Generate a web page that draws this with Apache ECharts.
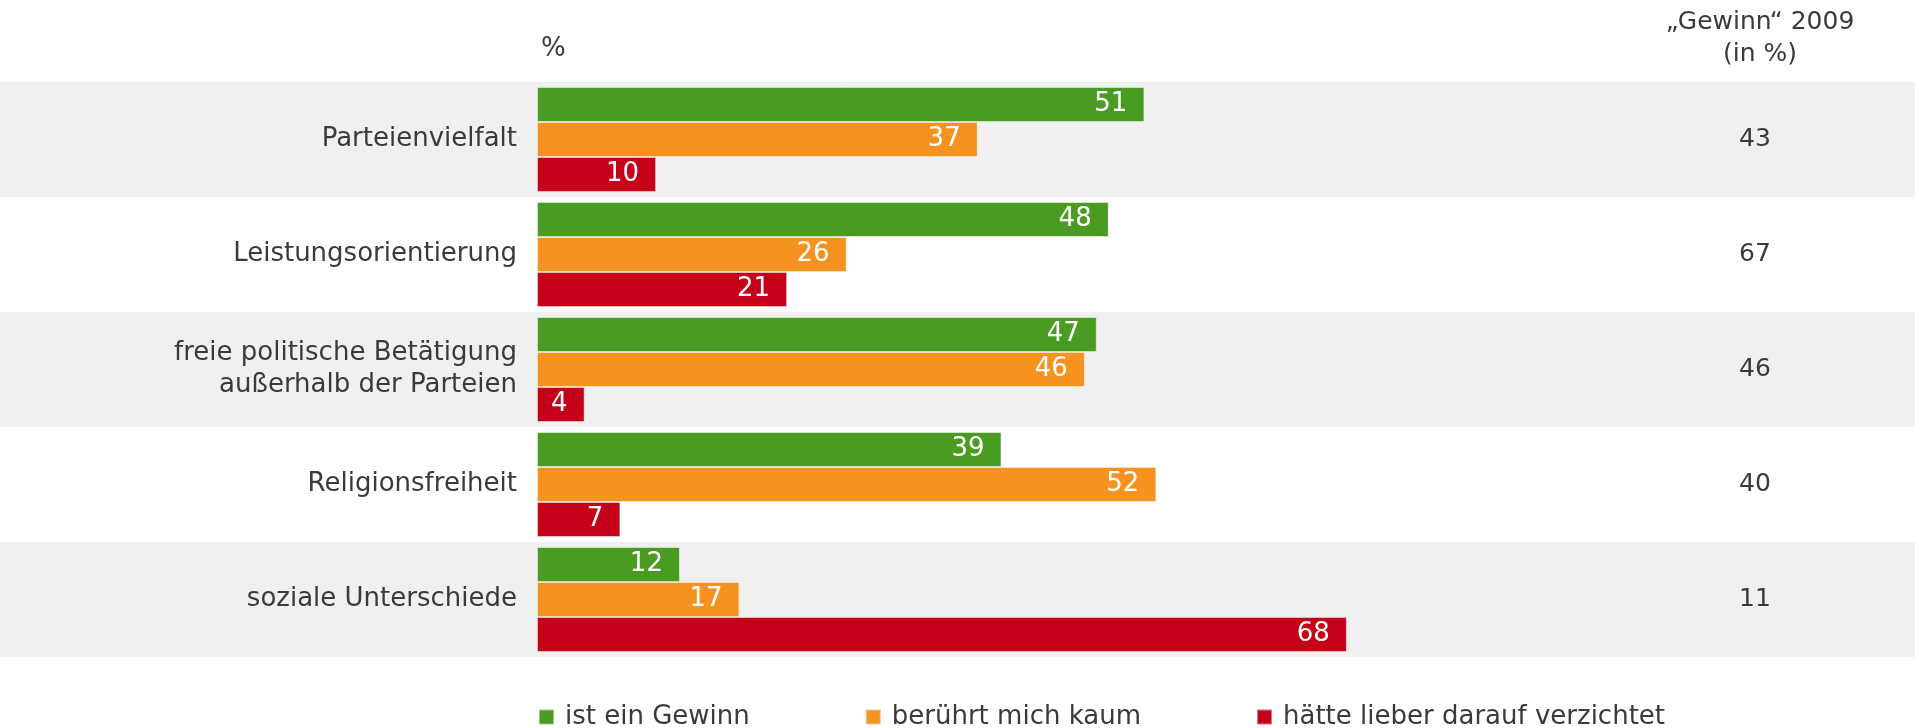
<!DOCTYPE html>
<html>
<head>
<meta charset="utf-8">
<script src="https://cdn.jsdelivr.net/npm/echarts@6/dist/echarts.min.js"></script>
<style>
  html, body { margin: 0; padding: 0; background: #ffffff; }
  #chart { width: 1915px; height: 728px; }
</style>
</head>
<body>
<div id="chart"></div>
<script>
const categories = [
  'Parteienvielfalt',
  'Leistungsorientierung',
  'freie politische Betätigung\naußerhalb der Parteien',
  'Religionsfreiheit',
  'soziale Unterschiede'
];
const seriesNames = ['ist ein Gewinn', 'berührt mich kaum', 'hätte lieber darauf verzichtet'];
const gewinnValues = [51, 48, 47, 39, 12];
const kaumValues = [37, 26, 46, 52, 17];
const verzichtetValues = [10, 21, 4, 7, 68];
const gewinn2009 = [43, 67, 46, 40, 11];

const FONT = '"DejaVu Sans", Verdana, sans-serif';
const TEXT = '#3a3a3a';
const colors = ['#4a9b22', '#f59220', '#c50019'];

// layout: bars start at x=537, 11.91 px per percent; bands span full width
const W = 1915, BAR_LEFT = 537, PX_PER_UNIT = 11.91;
const X_MIN = -BAR_LEFT / PX_PER_UNIT;
const X_MAX = (W - BAR_LEFT) / PX_PER_UNIT;

const chart = echarts.init(document.getElementById('chart'), null, { renderer: 'canvas' });

function barSeries(name, data, color) {
  return {
    name: name,
    type: 'bar',
    data: data,
    barWidth: 35,
    barGap: '0%',
    itemStyle: { color: color, borderColor: 'rgba(255,255,255,0.45)', borderWidth: 1 },
    label: {
      show: true,
      position: 'insideRight',
      distance: 17,
      color: '#ffffff',
      fontFamily: FONT,
      fontSize: 26
    },
    emphasis: { disabled: true }
  };
}

chart.setOption({
  animation: false,
  textStyle: { fontFamily: FONT },
  title: [
    {
      text: '%',
      left: 536, top: 31,
      textStyle: { fontFamily: FONT, fontSize: 26, fontWeight: 'normal', color: TEXT }
    },
    {
      text: '„Gewinn“ 2009\n(in %)',
      left: 1755, top: 1,
      textAlign: 'center',
      textStyle: { fontFamily: FONT, fontSize: 25, fontWeight: 'normal', color: TEXT, lineHeight: 32, align: 'center' }
    }
  ],
  legend: {
    data: seriesNames,
    left: 533,
    top: 699,
    itemWidth: 15,
    itemHeight: 15,
    itemGap: 115,
    icon: 'rect',
    textStyle: { fontFamily: FONT, fontSize: 26, color: TEXT, padding: [0, 0, 0, 6] }
  },
  grid: { left: 0, right: 0, top: 82, bottom: 71, containLabel: false },
  xAxis: {
    type: 'value',
    min: X_MIN,
    max: X_MAX,
    show: false
  },
  yAxis: [
    {
      type: 'category',
      data: categories,
      inverse: true,
      offset: -BAR_LEFT,
      axisLine: { show: false },
      axisTick: { show: false },
      splitArea: { show: true, areaStyle: { color: ['#f0f0f0', '#ffffff'] } },
      axisLabel: {
        margin: 20,
        fontFamily: FONT,
        fontSize: 26,
        color: TEXT,
        lineHeight: 32,
        align: 'right'
      }
    },
    {
      type: 'category',
      data: categories,
      inverse: true,
      position: 'right',
      offset: -(W - 1755),
      axisLine: { show: false },
      axisTick: { show: false },
      axisLabel: {
        margin: 0,
        align: 'center',
        fontFamily: FONT,
        fontSize: 25,
        color: TEXT,
        formatter: function (v, i) { return String(gewinn2009[i]); }
      }
    }
  ],
  series: [
    barSeries(seriesNames[0], gewinnValues, colors[0]),
    barSeries(seriesNames[1], kaumValues, colors[1]),
    barSeries(seriesNames[2], verzichtetValues, colors[2])
  ]
});
</script>
</body>
</html>
